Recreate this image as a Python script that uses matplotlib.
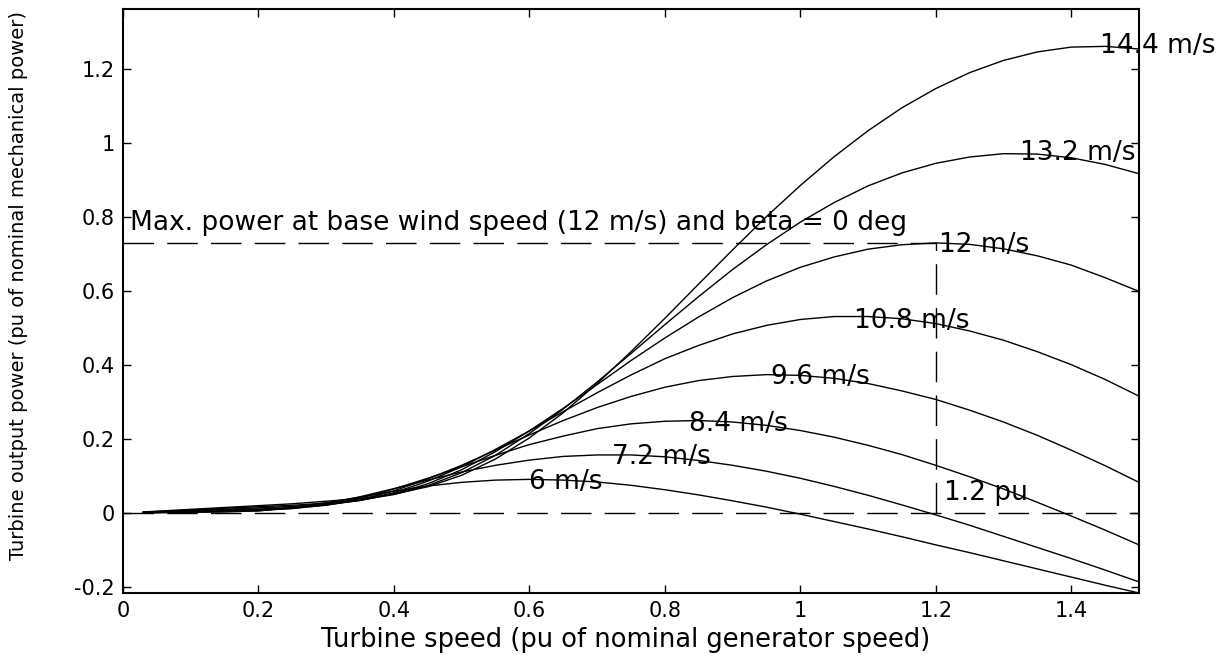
import matplotlib
matplotlib.use('Agg')
import matplotlib.pyplot as plt

speed = [0.03, 0.05, 0.10, 0.15, 0.20, 0.25, 0.30, 0.35, 0.40, 0.45, 0.50,
         0.55, 0.60, 0.65, 0.70, 0.75, 0.80, 0.85, 0.90, 0.95, 1.00,
         1.05, 1.10, 1.15, 1.20, 1.25, 1.30, 1.35, 1.40, 1.45, 1.50]

# turbine output power (pu) for each wind speed
p_6 = [0.000, 0.001, 0.002, 0.003, 0.006, 0.015, 0.028, 0.043, 0.059, 0.073, 0.083,
       0.089, 0.091, 0.089, 0.084, 0.075, 0.063, 0.049, 0.033, 0.016, -0.003,
       -0.023, -0.043, -0.064, -0.086, -0.107, -0.129, -0.151, -0.173, -0.195, -0.216]
p_72 = [0.001, 0.001, 0.003, 0.004, 0.006, 0.013, 0.025, 0.044, 0.066, 0.089, 0.111,
        0.129, 0.143, 0.153, 0.157, 0.157, 0.152, 0.142, 0.129, 0.113, 0.094,
        0.072, 0.048, 0.022, -0.005, -0.033, -0.063, -0.093, -0.123, -0.154, -0.186]
p_84 = [0.001, 0.002, 0.003, 0.005, 0.008, 0.012, 0.022, 0.040, 0.065, 0.094, 0.125,
        0.156, 0.185, 0.208, 0.228, 0.241, 0.248, 0.250, 0.246, 0.237, 0.223,
        0.205, 0.183, 0.158, 0.129, 0.098, 0.065, 0.029, -0.008, -0.046, -0.086]
p_96 = [0.001, 0.002, 0.004, 0.007, 0.009, 0.013, 0.021, 0.036, 0.060, 0.092, 0.129,
        0.170, 0.211, 0.250, 0.285, 0.315, 0.340, 0.358, 0.369, 0.374, 0.372,
        0.364, 0.350, 0.330, 0.307, 0.278, 0.246, 0.210, 0.170, 0.128, 0.083]
p_108 = [0.001, 0.003, 0.006, 0.009, 0.011, 0.015, 0.022, 0.034, 0.055, 0.086, 0.125,
         0.172, 0.222, 0.274, 0.325, 0.373, 0.417, 0.453, 0.484, 0.507, 0.523,
         0.531, 0.531, 0.525, 0.512, 0.492, 0.467, 0.436, 0.401, 0.361, 0.316]
p_12 = [0.002, 0.003, 0.007, 0.010, 0.014, 0.018, 0.024, 0.034, 0.052, 0.079, 0.117,
        0.166, 0.222, 0.283, 0.347, 0.412, 0.473, 0.530, 0.582, 0.627, 0.664,
        0.692, 0.713, 0.725, 0.730, 0.726, 0.714, 0.695, 0.670, 0.636, 0.599]
p_132 = [0.002, 0.004, 0.008, 0.013, 0.017, 0.021, 0.027, 0.035, 0.050, 0.074, 0.109,
         0.156, 0.215, 0.281, 0.354, 0.431, 0.509, 0.585, 0.658, 0.725, 0.786,
         0.839, 0.884, 0.919, 0.945, 0.962, 0.971, 0.970, 0.960, 0.942, 0.917]
p_144 = [0.003, 0.005, 0.010, 0.015, 0.020, 0.025, 0.032, 0.039, 0.051, 0.071, 0.102,
         0.146, 0.203, 0.271, 0.350, 0.436, 0.526, 0.619, 0.711, 0.801, 0.885,
         0.963, 1.033, 1.095, 1.147, 1.190, 1.223, 1.246, 1.259, 1.261, 1.254]

curves = [p_6, p_72, p_84, p_96, p_108, p_12, p_132, p_144]
wind_labels = ['6 m/s', '7.2 m/s', '8.4 m/s', '9.6 m/s', '10.8 m/s', '12 m/s', '13.2 m/s', '14.4 m/s']
label_x = [0.60, 0.722, 0.835, 0.957, 1.08, 1.205, 1.325, 1.443]
label_y = [0.084, 0.151, 0.240, 0.368, 0.520, 0.724, 0.973, 1.262]

max_power = 0.73   # pu, at base wind speed
base_speed = 1.2   # pu

yticks = [-0.2, 0, 0.2, 0.4, 0.6, 0.8, 1.0, 1.2]
ytick_labels = ['-0.2', '0', '0.2', '0.4', '0.6', '0.8', '1', '1.2']
xticks = [0, 0.2, 0.4, 0.6, 0.8, 1.0, 1.2, 1.4]
xtick_labels = ['0', '0.2', '0.4', '0.6', '0.8', '1', '1.2', '1.4']

fig = plt.figure(figsize=(12.26, 6.61), dpi=100)
ax = fig.add_axes([0.1003, 0.1029, 0.8287, 0.8835])

for p in curves:
    ax.plot(speed, p, color='black', linewidth=1.0)

dash = (0, (22, 9.5))
ax.plot([0, base_speed], [max_power, max_power], color='black', linewidth=1.0, linestyle=dash)
ax.plot([base_speed, base_speed], [0, max_power], color='black', linewidth=1.0, linestyle=dash)
ax.plot([0, 1.5], [0, 0], color='black', linewidth=1.0, linestyle=dash)

for lab, lx, ly in zip(wind_labels, label_x, label_y):
    ax.text(lx, ly, lab, fontsize=19, va='center', ha='left', clip_on=False)

ax.text(0.01, 0.785, 'Max. power at base wind speed (12 m/s) and beta = 0 deg',
        fontsize=19, va='center', ha='left')
ax.text(1.212, 0.054, '1.2 pu', fontsize=19, va='center', ha='left')

ax.set_xlim(0, 1.5)
ax.set_ylim(-0.216, 1.362)
ax.set_xticks(xticks)
ax.set_xticklabels(xtick_labels)
ax.set_yticks(yticks)
ax.set_yticklabels(ytick_labels)
ax.tick_params(direction='in', top=True, right=True, length=6, width=1,
               labelsize=15, pad=6)
for s in ax.spines.values():
    s.set_linewidth(1.5)

ax.set_xlabel('Turbine speed (pu of nominal generator speed)', fontsize=18.5)
ax.xaxis.set_label_coords(0.495, -0.058)
ax.set_ylabel('Turbine output power (pu of nominal mechanical power)', fontsize=14)
ax.yaxis.set_label_coords(-0.093, 0.527)

fig.savefig('out.png', dpi=100)
